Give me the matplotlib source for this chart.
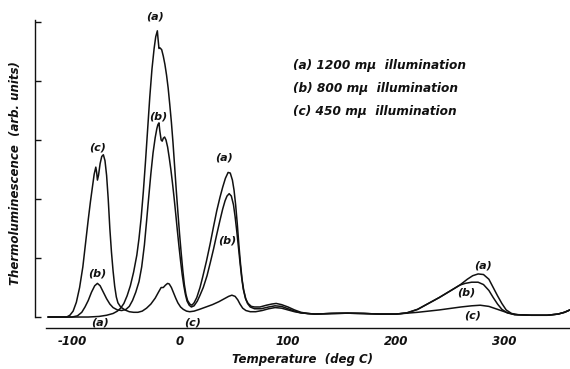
import matplotlib
matplotlib.use("Agg")
from matplotlib import pyplot as plt

# readings from the trace (temperature in deg C, intensity in arb. units)
temp_a = [-122, -100, -85, -75, -68, -62, -58, -55, -52, -49, -46, -43, -40, -38,
          -36, -34, -32, -30, -28, -26, -24, -22.5, -21, -20.3, -19.5, -18.5, -17,
          -15.5, -14, -12.5, -11, -9.5, -8, -6.5, -5, -3.5, -2, -0.5, 1, 2.5, 4, 5.5,
          7, 9, 11, 13, 15.5, 18.5, 21, 24.5, 28, 31, 34, 37, 39.5, 42, 44.5, 46.5,
          48.5, 50, 51.5, 53, 54.5, 56, 57.5, 59, 61, 63, 66, 69, 74, 80, 85, 89, 94,
          100, 106, 112, 118, 125, 140, 155, 170, 185, 200, 210, 220, 231, 240, 250,
          259, 266, 271, 276, 281, 286, 290, 294, 298, 302, 307, 313, 325, 340, 350,
          356, 361]
val_a = [0, 0, 0, 0.01, 0.03, 0.06, 0.1, 0.15, 0.23, 0.36, 0.53, 0.76, 1.05, 1.33,
         1.68, 2.12, 2.63, 3.18, 3.73, 4.2, 4.55, 4.75, 4.85, 4.7, 4.55, 4.56, 4.53,
         4.42, 4.28, 4.1, 3.88, 3.6, 3.3, 2.95, 2.55, 2.15, 1.78, 1.42, 1.1, 0.8, 0.55, 0.38,
         0.28, 0.22, 0.2, 0.24, 0.33, 0.5, 0.68, 0.95, 1.25, 1.53, 1.8, 2.03, 2.2, 2.35, 2.45, 2.44,
         2.32, 2.15, 1.9, 1.58, 1.22, 0.9, 0.63, 0.45, 0.3, 0.23, 0.18, 0.17, 0.17, 0.2, 0.22, 0.23, 0.21,
         0.17, 0.12, 0.08, 0.06, 0.05, 0.06, 0.065, 0.06, 0.05, 0.05, 0.07, 0.13, 0.24, 0.33, 0.44,
         0.54, 0.64, 0.7, 0.73, 0.72, 0.64, 0.5, 0.36, 0.23, 0.12, 0.06, 0.04, 0.03, 0.03, 0.05,
         0.08, 0.12]

temp_b = [-122, -100, -95, -91, -88, -85, -82, -79, -76.5, -74, -71, -68, -65, -62,
          -58, -54, -50, -47, -44, -41, -38, -35.5, -33, -31, -29, -27, -25, -23, -21.5,
          -20.5, -19.5, -18.7, -17.5, -16.5, -15.5, -14.3, -13, -11.5, -10, -8.5, -7,
          -5.5, -4, -2.5, -1, 0.5, 2, 3.5, 5, 6.5, 8.5, 10.5, 13, 16, 18.5, 21.5, 25,
          28, 31, 34, 37, 39.5, 41.7, 43.5, 45.5, 47.5, 49.5, 51, 52.5, 54, 55.5, 57,
          58.5, 60.5, 62.5, 65, 69, 75, 82, 88, 94, 100, 106, 112, 118, 125, 140, 155,
          170, 185, 200, 210, 220, 231, 240, 250, 259, 264, 270, 276, 281, 286, 290,
          294, 298, 303, 310, 325, 340, 350, 356, 361]
val_b = [0, 0, 0.02, 0.08, 0.17, 0.28, 0.42, 0.53, 0.57, 0.53, 0.42, 0.31, 0.22, 0.16,
         0.12, 0.11, 0.13, 0.18, 0.28, 0.42, 0.6, 0.85, 1.22, 1.62, 2.03, 2.43, 2.78, 3.04, 3.19,
         3.26, 3.29, 3.15, 3.0, 2.98, 3.03, 3.05, 3.0, 2.88, 2.7, 2.5, 2.27,
         2.02, 1.75, 1.47, 1.2, 0.95, 0.72, 0.53, 0.38, 0.27, 0.2, 0.17, 0.19, 0.27, 0.37, 0.5, 0.7,
         0.92, 1.15, 1.4, 1.64, 1.83, 1.97, 2.05, 2.09, 2.05, 1.9, 1.7, 1.46, 1.2, 0.93, 0.68,
         0.48, 0.32, 0.23, 0.17, 0.14, 0.14, 0.17, 0.19, 0.18, 0.14, 0.1, 0.07, 0.06, 0.05, 0.06, 0.065,
         0.06, 0.05, 0.05, 0.07, 0.13, 0.24, 0.33, 0.44, 0.54, 0.57, 0.59, 0.59, 0.55, 0.45, 0.33,
         0.22, 0.13, 0.07, 0.04, 0.03, 0.03, 0.05, 0.08, 0.12]

temp_c = [-122, -105, -102, -99, -96, -93, -90, -87.5, -85, -83, -81, -79.5, -78, -77.2,
          -76.5, -75.5, -74, -72.5, -71, -69.5, -68, -66.5, -65, -63.5, -62, -60.5, -59,
          -57.5, -55, -51, -47, -43, -39, -35, -31, -27, -23, -20, -17.5, -15.5, -13.5,
          -11.5, -10, -8, -6, -4, -2, 0.5, 3, 6, 9, 13, 18, 24, 30, 36, 41, 45, 48, 51,
          53.5, 55.5, 58, 61, 65, 70, 76, 82, 88, 94, 100, 106, 112, 118, 125, 140, 155,
          170, 185, 200, 220, 240, 260, 270, 278, 286, 294, 302, 310, 325, 340, 350, 356, 361]
val_c = [0, 0, 0.03, 0.1, 0.25, 0.5, 0.85, 1.25, 1.65, 1.95, 2.22, 2.42, 2.54, 2.45,
         2.32, 2.4, 2.6, 2.72, 2.75, 2.65, 2.4, 2.0, 1.5, 1.1, 0.78, 0.52, 0.34,
         0.24, 0.17, 0.12, 0.09, 0.08, 0.08, 0.1, 0.15, 0.22, 0.32, 0.42, 0.5, 0.5, 0.54,
         0.57, 0.56, 0.5, 0.41, 0.32, 0.24, 0.17, 0.13, 0.1, 0.09, 0.1, 0.13, 0.17, 0.21, 0.26, 0.31, 0.35, 0.37, 0.35,
         0.29, 0.22, 0.15, 0.11, 0.09, 0.09, 0.11, 0.14, 0.16, 0.15, 0.12, 0.09, 0.07, 0.06, 0.05, 0.06, 0.065,
         0.06, 0.05, 0.05, 0.08, 0.12, 0.17, 0.19, 0.2, 0.18, 0.13, 0.08, 0.04, 0.03, 0.03, 0.05, 0.08, 0.12]

# curve tags: (text, temperature, intensity)
tags = [("(a)", -23, 5.1), ("(b)", -20, 3.4), ("(c)", -76, 2.88), ("(b)", -77, 0.73),
        ("(a)", -74, -0.085), ("(c)", 12, -0.085), ("(a)", 41, 2.71), ("(b)", 43.5, 1.29),
        ("(a)", 281, 0.88), ("(b)", 265, 0.41), ("(c)", 271, 0.02)]

legend_lines = ["(a) 1200 m\u03bc  illumination",
                "(b) 800 m\u03bc  illumination",
                "(c) 450 m\u03bc  illumination"]

xticks = [-100, 0, 100, 200, 300]

ink = "#111111"
font = dict(family="DejaVu Sans", style="italic", weight="bold", color=ink)

fig = plt.figure(figsize=(5.7, 3.69), dpi=100)
ax = fig.add_axes([35 / 570, 1 - 328 / 369, 535 / 570, 309 / 369])

for t, v in [(temp_a, val_a), (temp_b, val_b), (temp_c, val_c)]:
    ax.plot(t, v, color=ink, lw=1.1, solid_joinstyle="round")

ax.set_xlim(-134.3, 361.1)
ax.set_ylim(-0.186, 5.05)

ax.spines["top"].set_visible(False)
ax.spines["right"].set_visible(False)
ax.spines["left"].set_bounds(0, 5.03)
ax.spines["bottom"].set_bounds(-124, 361.1)
for s in ("left", "bottom"):
    ax.spines[s].set_color(ink)
    ax.spines[s].set_linewidth(1.0)

ax.set_yticks(range(6))
ax.set_yticklabels([])
ax.tick_params(axis="y", direction="in", length=4, width=1.0, color=ink)
ax.set_xticks(xticks)
ax.set_xticklabels([str(x) for x in xticks], fontsize=8.5, **font)
ax.tick_params(axis="x", length=0, pad=5)
ax.set_xlabel("Temperature  (deg C)", fontsize=8.5, labelpad=4, **font)
ax.set_ylabel("Thermoluminescence  (arb. units)", fontsize=8.5, labelpad=6, **font)

for txt, t, v in tags:
    ax.text(t, v, txt, ha="center", va="center", fontsize=8, **font)

for i, line in enumerate(legend_lines):
    fig.text(293 / 570, 1 - (65 + 23.5 * i) / 369, line, ha="left", va="center",
             fontsize=8.7, **font)

fig.savefig("out.png", dpi=100)
